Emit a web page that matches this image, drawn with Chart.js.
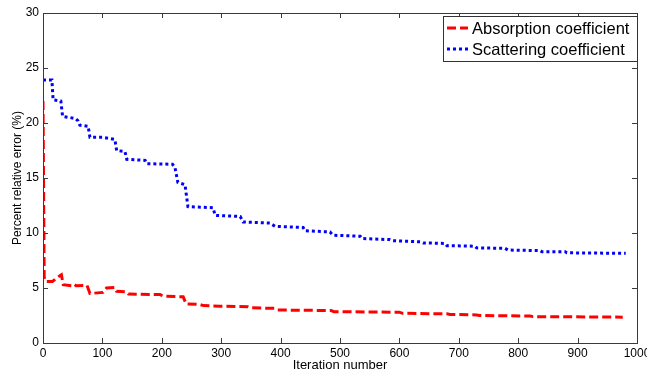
<!DOCTYPE html>
<html>
<head>
<meta charset="utf-8">
<script src="https://cdn.jsdelivr.net/npm/chart.js@4"></script>
<style>
  html, body { margin: 0; padding: 0; background: #fff; }
  #wrap { width: 647px; height: 373px; }
</style>
</head>
<body>
<div id="wrap"><canvas id="chart" width="647" height="373"></canvas></div>
<script>
// Données
const absIter = [0, 2, 4, 16, 28, 31, 34, 48, 52, 56, 74, 79, 101, 107, 121, 124, 141, 144, 197, 203, 236, 241, 264, 270, 298, 345, 350, 390, 395, 485, 490, 600, 605, 680, 685, 730, 735, 820, 825, 976];
const absErr = [22.0, 6.0, 5.6, 5.6, 6.1, 6.2, 5.3, 5.2, 5.35, 5.2, 5.25, 4.5, 4.6, 5.0, 5.05, 4.7, 4.65, 4.45, 4.4, 4.25, 4.2, 3.55, 3.5, 3.4, 3.35, 3.3, 3.2, 3.15, 3.0, 2.95, 2.85, 2.8, 2.7, 2.65, 2.6, 2.55, 2.5, 2.45, 2.4, 2.35];

const scatIter = [0, 15, 17, 30, 33, 45, 55, 59, 62, 76, 79, 100, 121, 124, 138, 141, 172, 175, 218, 222, 227, 239, 244, 286, 290, 332, 337, 382, 391, 438, 441, 483, 488, 534, 537, 584, 589, 635, 640, 677, 680, 727, 730, 778, 783, 837, 840, 879, 882, 981];
const scatErr = [23.9, 23.9, 22.1, 22.0, 20.6, 20.5, 20.4, 20.2, 19.8, 19.7, 18.7, 18.7, 18.5, 17.5, 17.4, 16.7, 16.6, 16.3, 16.25, 16.0, 14.6, 14.4, 12.4, 12.3, 11.6, 11.5, 11.0, 10.9, 10.6, 10.5, 10.2, 10.1, 9.8, 9.7, 9.5, 9.4, 9.3, 9.2, 9.1, 9.05, 8.85, 8.8, 8.65, 8.6, 8.45, 8.4, 8.3, 8.3, 8.2, 8.15];

const seriesNames = ["Absorption coefficient", "Scattering coefficient"];
const xTicks = [0, 100, 200, 300, 400, 500, 600, 700, 800, 900, 1000];
const yTicks = [0, 5, 10, 15, 20, 25, 30];

const FONT = "'Liberation Sans', Arial, sans-serif";

function toPoints(xs, ys) {
  return xs.map((x, i) => ({ x: x, y: ys[i] }));
}

// cadre + graduations vers l'intérieur (style MATLAB) + légende
const matlabBox = {
  id: "matlabBox",
  afterDatasetsDraw(chart) {
    const ctx = chart.ctx;
    const a = chart.chartArea;
    const xs = chart.scales.x, ys = chart.scales.y;
    const tl = 5;
    ctx.save();
    ctx.lineWidth = 1;
    ctx.strokeStyle = "#3a3a3a";
    ctx.beginPath();
    xTicks.forEach((v) => {
      const px = Math.round(xs.getPixelForValue(v)) + 0.5;
      ctx.moveTo(px, a.bottom); ctx.lineTo(px, a.bottom - tl);
      ctx.moveTo(px, a.top); ctx.lineTo(px, a.top + tl);
    });
    yTicks.forEach((v) => {
      const py = Math.round(ys.getPixelForValue(v)) + 0.5;
      ctx.moveTo(a.left, py); ctx.lineTo(a.left + tl, py);
      ctx.moveTo(a.right, py); ctx.lineTo(a.right - tl, py);
    });
    ctx.stroke();
    ctx.strokeRect(Math.round(a.left) + 0.5, Math.round(a.top) + 0.5,
      Math.round(a.right - a.left), Math.round(a.bottom - a.top));

    // légende
    const lx = 443, ly = 16, lw = 194, lh = 45;
    ctx.fillStyle = "#fff";
    ctx.fillRect(lx, ly, lw, lh);
    ctx.strokeStyle = "#333";
    ctx.strokeRect(lx + 0.5, ly + 0.5, lw, lh);
    const rows = [28, 49];
    chart.data.datasets.forEach((ds, i) => {
      ctx.strokeStyle = ds.borderColor;
      ctx.lineWidth = 3;
      ctx.setLineDash(ds.borderDash);
      ctx.beginPath();
      ctx.moveTo(lx + 4, rows[i]);
      ctx.lineTo(lx + 25, rows[i]);
      ctx.stroke();
      ctx.setLineDash([]);
      ctx.fillStyle = "#000";
      ctx.font = "16.5px " + FONT;
      ctx.textBaseline = "middle";
      ctx.textAlign = "left";
      ctx.fillText(seriesNames[i], lx + 29, rows[i] + 1);
    });
    ctx.restore();
  }
};

new Chart(document.getElementById("chart"), {
  type: "line",
  data: {
    datasets: [
      {
        label: seriesNames[0],
        data: toPoints(absIter, absErr),
        borderColor: "#ff0000",
        borderWidth: 3,
        borderDash: [9, 4],
        pointRadius: 0,
        tension: 0,
        fill: false,
      },
      {
        label: seriesNames[1],
        data: toPoints(scatIter, scatErr),
        borderColor: "#0000ff",
        borderWidth: 3,
        borderDash: [3, 3],
        pointRadius: 0,
        tension: 0,
        fill: false,
      },
    ],
  },
  options: {
    responsive: false,
    animation: false,
    layout: { padding: { top: 13, right: 10, left: 0, bottom: 0 } },
    plugins: { legend: { display: false }, tooltip: { enabled: false } },
    scales: {
      x: {
        type: "linear",
        min: 0,
        max: 1000,
        afterBuildTicks: (s) => { s.ticks = xTicks.map((v) => ({ value: v })); },
        afterFit: (s) => { s.height = 30; s.paddingLeft = 0; s.paddingRight = 0; },
        grid: { display: false, drawTicks: false },
        border: { display: false },
        ticks: {
          color: "#000",
          padding: 3,
          maxRotation: 0,
          font: { family: FONT, size: 12 },
          callback: (v) => String(v),
        },
        title: {
          display: true,
          text: "Iteration number",
          color: "#000",
          padding: 0,
          font: { family: FONT, size: 13 },
        },
      },
      y: {
        min: 0,
        max: 30,
        afterBuildTicks: (s) => { s.ticks = yTicks.map((v) => ({ value: v })); },
        afterFit: (s) => { s.width = 43; s.paddingTop = 0; s.paddingBottom = 0; },
        grid: { display: false, drawTicks: false },
        border: { display: false },
        ticks: { color: "#000", padding: 4, font: { family: FONT, size: 12 } },
        title: {
          display: true,
          text: "Percent relative error (%)",
          color: "#000",
          padding: { top: 10, bottom: 0 },
          font: { family: FONT, size: 12 },
        },
      },
    },
  },
  plugins: [matlabBox],
});
</script>
</body>
</html>
